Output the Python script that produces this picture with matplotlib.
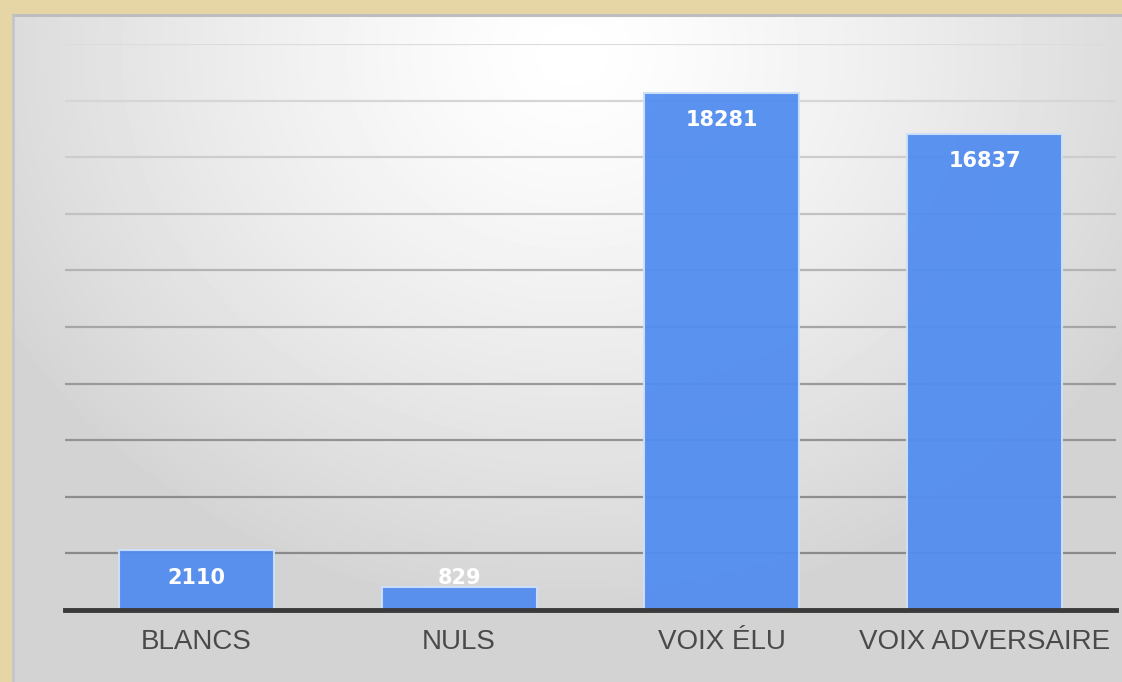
import numpy as np
import matplotlib
matplotlib.use('Agg')
import matplotlib.pyplot as plt

categories = ['BLANCS', 'NULS', 'VOIX ÉLU', 'VOIX ADVERSAIRE']
votes = [2110, 829, 18281, 16837]
yticks = np.arange(2000, 20001, 2000)

plt.rcParams['font.family'] = ['Liberation Sans', 'DejaVu Sans']

W, H = 1122, 682
fig = plt.figure(figsize=(W/100, H/100), dpi=100)
fig.patch.set_facecolor('#e6d6a6')

# grey gradient panel behind the chart
px0, py0 = 12, 14
bg = fig.add_axes([px0/W, 0, 1 - px0/W, (H - py0)/H])
pw, ph = W - px0, H - py0
xx, yy = np.meshgrid(np.arange(pw), np.arange(ph))
d = np.sqrt(((xx - 560)/650.0)**2 + ((yy - 40)/560.0)**2)
shade = 1.0 - 0.17*np.clip(d, 0, 1)**1.3
bg.imshow(shade, cmap='gray', vmin=0, vmax=1, aspect='auto',
          extent=[0, pw, ph, 0], interpolation='bilinear')
bg.plot([0, pw], [1, 1], color='#bdbdbd', lw=2.2)
bg.plot([1, 1], [0, ph], color='#c4c4c4', lw=1.8)
bg.set_xlim(0, pw)
bg.set_ylim(ph, 0)
bg.axis('off')

ax = fig.add_axes([65/W, 72/H, (1116 - 65)/W, (610 - 44)/H])
ax.patch.set_alpha(0)
x = np.arange(len(categories))
ax.bar(x, votes, width=0.59, color='#528df0', alpha=0.95,
       edgecolor='#cfe0fa', linewidth=1.5, zorder=3)

ax.set_xlim(-0.5, 3.5)
ax.set_ylim(0, 20000)
ax.set_yticks(yticks)
ax.yaxis.grid(True, zorder=0)
grid_cols = ['#8a8a8a', '#8e8e8e', '#939393', '#9a9a9a', '#a6a6a6',
             '#b4b4b4', '#c2c2c2', '#cdcdcd', '#d6d6d6', '#dcdcdc']
for gl, c in zip(ax.get_ygridlines(), grid_cols):
    gl.set_color(c)
    gl.set_linewidth(1.6)
ax.set_axisbelow(True)
ax.tick_params(axis='y', left=False, labelleft=False)
ax.set_xticks(x)
ax.set_xticklabels(categories, fontsize=20, color='#4a4a4a')
ax.tick_params(axis='x', length=0, pad=14)
for s in ['top', 'right', 'left']:
    ax.spines[s].set_visible(False)
ax.spines['bottom'].set_color('#3a3a3a')
ax.spines['bottom'].set_linewidth(3.5)
ax.spines['bottom'].set_zorder(4)

for xi, v in zip(x, votes):
    ax.annotate(str(v), (xi, max(v, 2100)), xytext=(0, -20),
                textcoords='offset points', ha='center', va='center',
                color='white', fontsize=15, fontweight='bold',
                family='DejaVu Sans', zorder=5)

fig.savefig('out.png', dpi=100, facecolor=fig.get_facecolor())
